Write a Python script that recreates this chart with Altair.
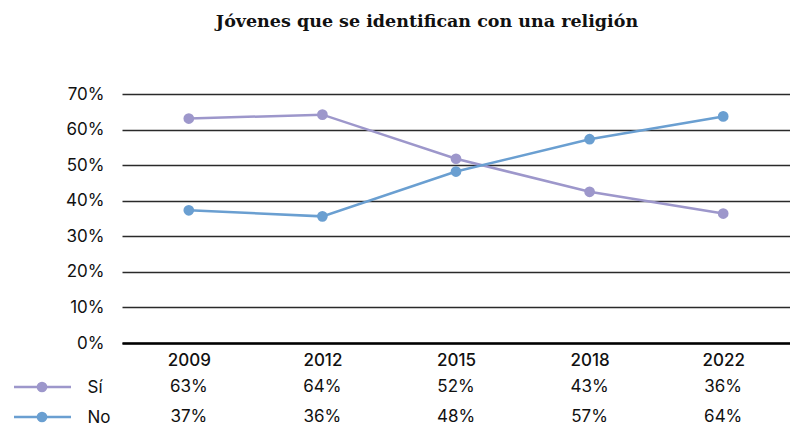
import altair as alt
import pandas as pd

years = ["2009", "2012", "2015", "2018", "2022"]
series = ["Sí", "No"]
si_values = [63.1, 64.2, 51.8, 42.5, 36.4]
no_values = [37.3, 35.6, 48.2, 57.3, 63.7]
si_labels = ["63%", "64%", "52%", "43%", "36%"]
no_labels = ["37%", "36%", "48%", "57%", "64%"]
colors = ["#9d97cb", "#6a9fd1"]
title = "Jóvenes que se identifican con una religión"

rows = []
for s, vals, labs in [("Sí", si_values, si_labels), ("No", no_values, no_labels)]:
    for y, v, l in zip(years, vals, labs):
        rows.append({"year": y, "serie": s, "value": v / 100, "label": l})
df = pd.DataFrame(rows)
keys = pd.DataFrame({"serie": series})

FONT = "Inter"
FS = 17
W = 668
color = alt.Color("serie:N", scale=alt.Scale(domain=series, range=colors), legend=None)
xenc = alt.X("year:O", sort=years, title=None,
             axis=alt.Axis(labelAngle=0, labelFontSize=FS, labelFont=FONT, labelFontWeight=500,
                           labelColor="#111", labelPadding=9, ticks=False, domainColor="#000",
                           domainWidth=2.5, grid=False))
yenc = alt.Y("value:Q", title=None,
             scale=alt.Scale(domain=[0, 0.7], nice=False),
             axis=alt.Axis(format=".0%", values=[0, 0.1, 0.2, 0.3, 0.4, 0.5, 0.6, 0.7],
                           labelFontSize=FS, labelFont=FONT, labelColor="#111", labelPadding=18,
                           ticks=False, domain=False, grid=True, gridColor="#2a2a2a",
                           gridWidth=1.3))

base = alt.Chart(df).encode(x=xenc, y=yenc, color=color)
lines = base.mark_line(strokeWidth=2.5)
points = base.mark_point(filled=True, size=115, opacity=1)
top = alt.layer(lines, points).properties(
    width=W, height=249,
    title=alt.TitleParams(title, font="DejaVu Serif", fontSize=17.5, fontWeight="bold",
                          color="#111", offset=55, anchor="middle", dx=-29),
)

ty = alt.Y("serie:N", sort=series, title=None,
           scale=alt.Scale(type="point", range=[19, 49], padding=0),
           axis=alt.Axis(labelAlign="left", labelPadding=35, labelFontSize=FS, labelFont=FONT,
                         labelColor="#111", ticks=False, domain=False, grid=False))
tx = alt.X("year:O", sort=years, title=None, axis=None)
texts = alt.Chart(df).mark_text(fontSize=FS, font=FONT, color="#111").encode(
    x=tx, y=ty, text="label:N")
key_rules = alt.Chart(keys).mark_rule(strokeWidth=2.5).encode(
    x=alt.value(-108), x2=alt.value(-51), y=ty, color=color)
key_points = alt.Chart(keys).mark_point(filled=True, size=115, opacity=1).encode(
    x=alt.value(-80), y=ty, color=color)
bottom = alt.layer(key_rules, key_points, texts).properties(width=W, height=50)

chart = alt.vconcat(top, bottom, spacing=0).properties(
    padding={"left": 4, "top": 4, "right": 0, "bottom": 0}
).configure_view(stroke=None)

chart.save("out.html", embed_options={"renderer": "svg", "actions": False})
